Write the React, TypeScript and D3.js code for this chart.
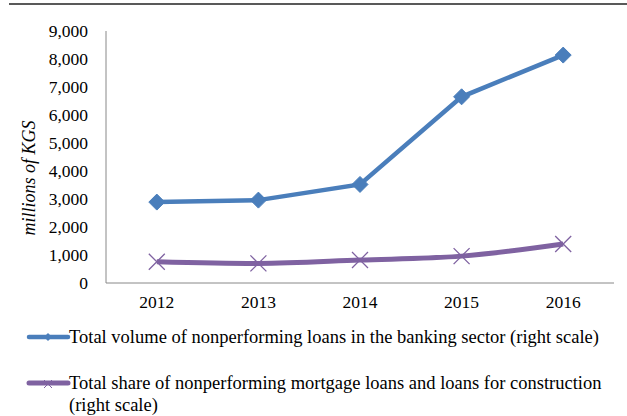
import React from 'react';
import * as d3 from 'd3';

const years = ['2012', '2013', '2014', '2015', '2016'];
const totalNpl = [2890, 2960, 3520, 6650, 8140];
const mortgageNpl = [760, 700, 820, 960, 1390];
const yTicks = [0, 1000, 2000, 3000, 4000, 5000, 6000, 7000, 8000, 9000];
const legendLabels = [
    'Total volume of nonperforming loans in the banking sector (right scale)',
    'Total share of nonperforming mortgage loans and loans for construction',
    '(right scale)',
];

const W = 627;
const H = 416;
const FONT = "'Liberation Serif', 'Times New Roman', Times, serif";
const BLUE = '#4a7ebb';
const PURPLE = '#7f62a1';

const App = () => {
    const x = d3.scaleBand().domain(years).range([106, 614]);
    const y = d3.scaleLinear().domain([0, 9000]).range([283, 31]);
    const cx = (d: string) => (x(d) as number) + x.bandwidth() / 2;

    const blueLine = d3.line<number>()
        .x((_, i) => cx(years[i]))
        .y(d => y(d));
    const purpleLine = d3.line<number>()
        .x((_, i) => cx(years[i]))
        .y(d => y(d))
        .curve(d3.curveMonotoneX);

    const fmt = d3.format(',');
    const diamond = (px: number, py: number, r: number) =>
        `M${px},${py - r}L${px + r},${py}L${px},${py + r}L${px - r},${py}Z`;
    const txt = { fontFamily: FONT };

    return (
        <svg width={W} height={H} style={{ position: 'absolute', left: 0, top: 0 }}>
            <rect width={W} height={H} fill="#fff" />
            <line x1={9} x2={627} y1={4} y2={4} stroke="#222" strokeWidth={1.5} />

            {/* axes */}
            <line x1={106} x2={106} y1={31} y2={283} stroke="#888" strokeWidth={1} />
            <line x1={106} x2={614} y1={283} y2={283} stroke="#888" strokeWidth={1} />

            {yTicks.map(t => (
                <text key={t} x={88} y={y(t)} dy="0.35em" textAnchor="end" fontSize={17.5} fill="#000" style={txt}>
                    {fmt(t)}
                </text>
            ))}
            {years.map(yr => (
                <text key={yr} x={cx(yr)} y={302} dy="0.35em" textAnchor="middle" fontSize={17.5} fill="#000" style={txt}>
                    {yr}
                </text>
            ))}
            <text transform={`translate(29,${178}) rotate(-90)`} textAnchor="middle" dy="0.35em"
                fontSize={18} fontStyle="italic" fill="#000" style={txt}>
                millions of KGS
            </text>

            {/* series */}
            <path d={purpleLine(mortgageNpl) || ''} fill="none" stroke={PURPLE} strokeWidth={5} />
            {mortgageNpl.map((v, i) => {
                const px = cx(years[i]);
                const py = y(v);
                const r = 8;
                return (
                    <path key={i} d={`M${px - r},${py - r}L${px + r},${py + r}M${px - r},${py + r}L${px + r},${py - r}`}
                        stroke={PURPLE} strokeWidth={1.3} fill="none" />
                );
            })}
            <path d={blueLine(totalNpl) || ''} fill="none" stroke={BLUE} strokeWidth={4.5} />
            {totalNpl.map((v, i) => (
                <path key={i} d={diamond(cx(years[i]), y(v), 8)} fill={BLUE} stroke={BLUE} strokeWidth={1} />
            ))}

            {/* legend */}
            <line x1={29} x2={68} y1={337} y2={337} stroke={BLUE} strokeWidth={4.5} strokeLinecap="round" />
            <path d={diamond(48, 337, 4)} fill={BLUE} />
            <text x={69} y={337} dy="0.35em" fontSize={18.5} fill="#000" style={txt}>{legendLabels[0]}</text>

            <line x1={29} x2={68} y1={383} y2={383} stroke={PURPLE} strokeWidth={5} strokeLinecap="round" />
            <path d="M44,380L52,388M44,388L52,380" stroke={PURPLE} strokeWidth={1} />
            <text x={69} y={383} dy="0.35em" fontSize={18.5} fill="#000" style={txt}>{legendLabels[1]}</text>
            <text x={69} y={405} dy="0.35em" fontSize={18.5} fill="#000" style={txt}>{legendLabels[2]}</text>
        </svg>
    );
};

export default App;
